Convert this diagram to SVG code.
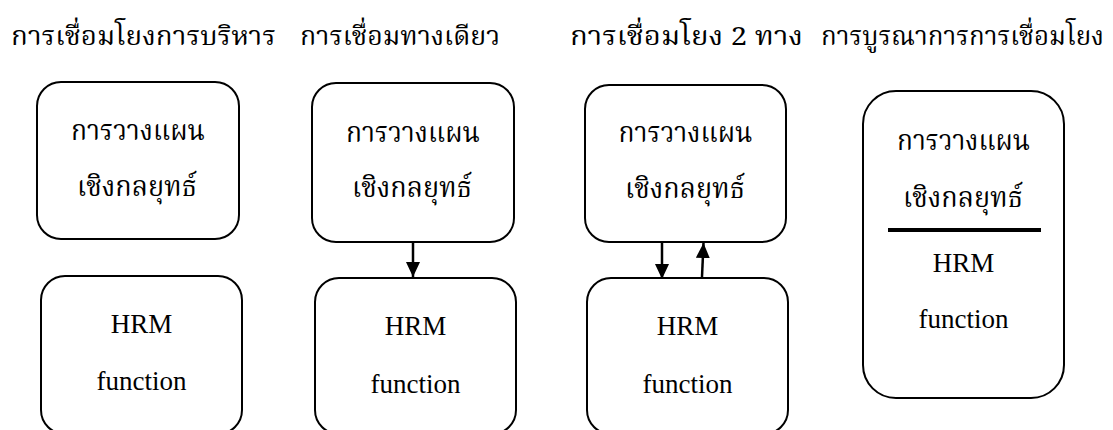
<svg xmlns="http://www.w3.org/2000/svg" width="1113" height="430" viewBox="0 0 1113 430">
  <style>
    .box { fill: #ffffff; stroke: #000000; stroke-width: 2; }
    .th { font-family: "Noto Serif Thai", "Noto Sans Thai", "Liberation Serif", serif; font-size: 28px; fill: #000000; }
    .head { font-size: 26px; }
    .en { font-family: "Liberation Serif", "Times New Roman", serif; font-size: 27px; fill: #000000; text-anchor: middle; }
    .mid { text-anchor: middle; }
    .link { stroke: #000000; stroke-width: 2.5; fill: none; marker-end: url(#head); }
  </style>
  <defs>
    <marker id="head" markerUnits="userSpaceOnUse" markerWidth="16" markerHeight="16" refX="15" refY="7" orient="auto">
      <path d="M0,0 L15,7 L0,14 Z" fill="#000000"/>
    </marker>
  </defs>
  <rect width="1113" height="430" fill="#ffffff"/>

  <!-- column headings -->
  <g id="headings">
    <text class="th head" x="11" y="45" textLength="265" lengthAdjust="spacingAndGlyphs">การเชื่อมโยงการบริหาร</text>
    <text class="th head" x="300" y="45" textLength="200" lengthAdjust="spacingAndGlyphs">การเชื่อมทางเดียว</text>
    <text class="th head" x="570" y="45" textLength="233" lengthAdjust="spacingAndGlyphs">การเชื่อมโยง 2 ทาง</text>
    <text class="th head" x="821" y="45" textLength="283" lengthAdjust="spacingAndGlyphs">การบูรณาการการเชื่อมโยง</text>
  </g>

  <!-- column 1: separate planning and HRM -->
  <g id="plan-1">
    <rect class="box" x="37" y="82" width="202" height="157" rx="24"/>
    <text class="th mid" x="138" y="140" textLength="134" lengthAdjust="spacingAndGlyphs">การวางแผน</text>
    <text class="th mid" x="137" y="196" textLength="120" lengthAdjust="spacingAndGlyphs">เชิงกลยุทธ์</text>
  </g>
  <g id="hrm-1">
    <rect class="box" x="41" y="276" width="201" height="158" rx="24"/>
    <text class="en" x="141.5" y="333">HRM</text>
    <text class="en" x="141.5" y="390">function</text>
  </g>

  <!-- column 2: one-way link -->
  <g id="plan-2">
    <rect class="box" x="312" y="83" width="202" height="159" rx="24"/>
    <text class="th mid" x="413" y="142" textLength="134" lengthAdjust="spacingAndGlyphs">การวางแผน</text>
    <text class="th mid" x="412" y="197" textLength="120" lengthAdjust="spacingAndGlyphs">เชิงกลยุทธ์</text>
  </g>
  <g id="hrm-2">
    <rect class="box" x="315" y="278" width="201" height="156" rx="24"/>
    <text class="en" x="415.5" y="335">HRM</text>
    <text class="en" x="415.5" y="393">function</text>
  </g>

  <!-- column 3: two-way link -->
  <g id="plan-3">
    <rect class="box" x="585" y="85" width="201" height="157" rx="24"/>
    <text class="th mid" x="685.5" y="142" textLength="134" lengthAdjust="spacingAndGlyphs">การวางแผน</text>
    <text class="th mid" x="685" y="198" textLength="120" lengthAdjust="spacingAndGlyphs">เชิงกลยุทธ์</text>
  </g>
  <g id="hrm-3">
    <rect class="box" x="587" y="278" width="201" height="156" rx="24"/>
    <text class="en" x="687.5" y="335">HRM</text>
    <text class="en" x="687.5" y="393">function</text>
  </g>

  <!-- column 4: integrated link -->
  <g id="integrated">
    <rect class="box" x="863" y="91" width="201" height="307" rx="33"/>
    <text class="th mid" x="963.5" y="150" textLength="133" lengthAdjust="spacingAndGlyphs">การวางแผน</text>
    <text class="th mid" x="963" y="207" textLength="120" lengthAdjust="spacingAndGlyphs">เชิงกลยุทธ์</text>
    <line x1="888" y1="230" x2="1041" y2="230" stroke="#000000" stroke-width="4"/>
    <text class="en" x="963.5" y="272">HRM</text>
    <text class="en" x="963.5" y="328">function</text>
  </g>

  <!-- connectors -->
  <g id="connectors">
    <line class="link" x1="413" y1="242" x2="413" y2="277"/>
    <line class="link" x1="662" y1="242" x2="662" y2="279"/>
    <line class="link" x1="702" y1="277" x2="703.5" y2="243"/>
  </g>
</svg>
